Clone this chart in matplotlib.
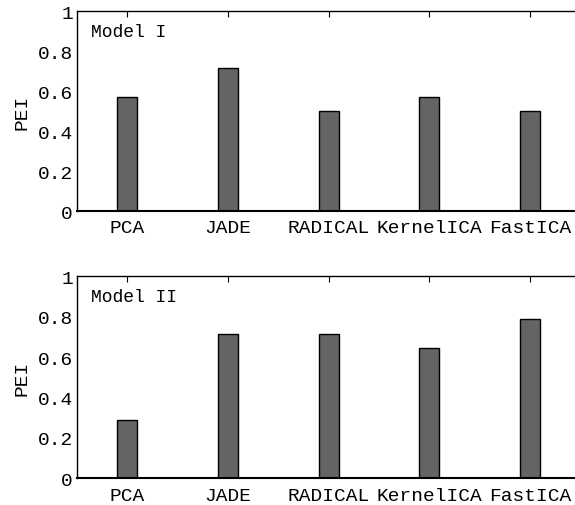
import numpy as np
import matplotlib
matplotlib.use('Agg')
import matplotlib.pyplot as plt

methods = ['PCA', 'JADE', 'RADICAL', 'KernelICA', 'FastICA']
pei_model1 = [0.571, 0.714, 0.5, 0.571, 0.5]
pei_model2 = [0.286, 0.714, 0.714, 0.643, 0.786]
panel_names = ['Model I', 'Model II']
yticks = [0, 0.2, 0.4, 0.6, 0.8, 1]
ytick_labels = ['0', '0.2', '0.4', '0.6', '0.8', '1']

plt.rcParams['font.family'] = ['Liberation Mono', 'DejaVu Sans Mono']
plt.rcParams['font.size'] = 14

fig = plt.figure(figsize=(5.75, 5.06), dpi=100)
# axes boxes run past the right edge, as in the original
ax1 = fig.add_axes([0.134, 0.581, 0.875, 0.395])
ax2 = fig.add_axes([0.134, 0.053, 0.875, 0.399])

x = np.arange(1, len(methods) + 1)
for ax, vals, name in zip([ax1, ax2], [pei_model1, pei_model2], panel_names):
    ax.bar(x, vals, width=0.2, color='#646464', edgecolor='black', linewidth=1.0, zorder=2)
    ax.set_xlim(0.5, 5.5)
    ax.set_ylim(0, 1)
    ax.set_xticks(x)
    ax.set_xticklabels(methods)
    ax.set_yticks(yticks)
    ax.set_yticklabels(ytick_labels)
    ax.tick_params(axis='x', direction='in', length=4, top=True, bottom=False, pad=6)
    ax.tick_params(axis='y', direction='in', length=0, pad=3)
    ax.set_ylabel('PEI', labelpad=5)
    for s in ax.spines.values():
        s.set_linewidth(1.0)
    ax.spines['bottom'].set_linewidth(1.5)
    ax.text(0.027, 0.90, name, transform=ax.transAxes, va='center', ha='left', fontsize=13)

fig.savefig('out.png', dpi=100)
